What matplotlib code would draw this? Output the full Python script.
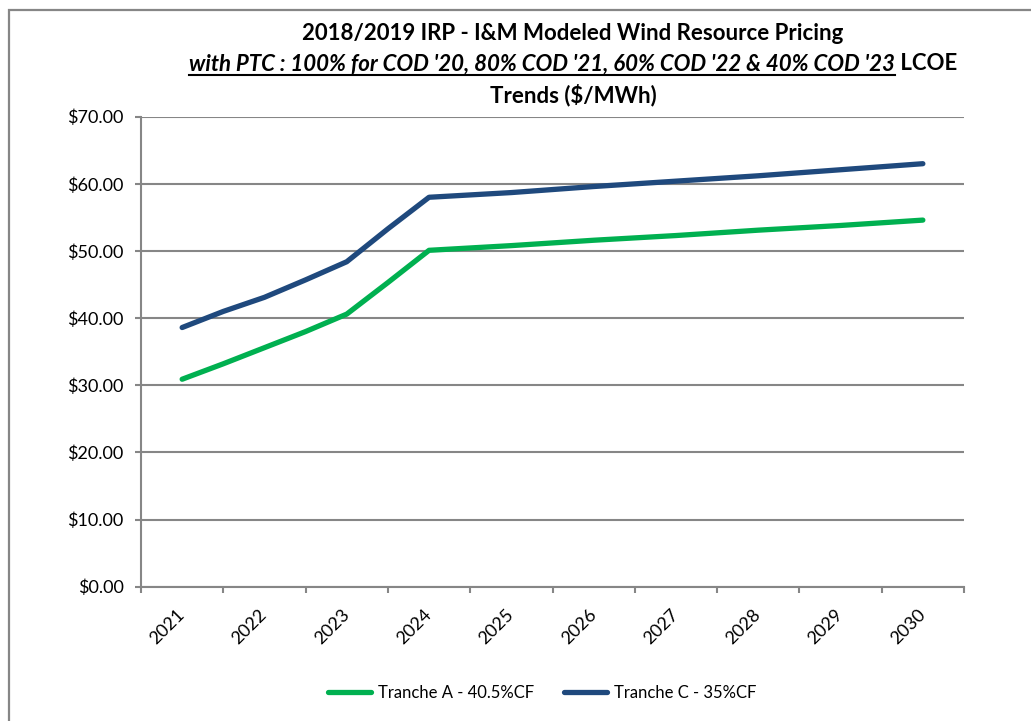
import matplotlib
matplotlib.use('Agg')
import matplotlib.pyplot as plt
from matplotlib.patches import Rectangle
from matplotlib.ticker import FuncFormatter, FixedLocator

plt.rcParams['font.family'] = ['Lato', 'DejaVu Sans']

# data ($/MWh)
x_pos = [2021, 2021.5, 2022, 2022.5, 2023, 2023.5, 2024, 2025, 2026, 2027, 2028, 2029, 2030]
tranche_a = [30.9, 33.2, 35.6, 38.0, 40.6, 45.3, 50.1, 50.8, 51.6, 52.3, 53.1, 53.8, 54.6]
tranche_c = [38.6, 41.0, 43.1, 45.7, 48.4, 53.3, 58.0, 58.7, 59.6, 60.4, 61.2, 62.1, 63.0]
year_labels = ['2021', '2022', '2023', '2024', '2025', '2026', '2027', '2028', '2029', '2030']
years = [2021, 2022, 2023, 2024, 2025, 2026, 2027, 2028, 2029, 2030]

W, H = 1031, 721
fig = plt.figure(figsize=(W / 100, H / 100), dpi=100)
ax = fig.add_axes([141 / W, 1 - 586.7 / H, (964 - 141) / W, (586.7 - 116.7) / H])

grey = '#868686'

# chart area border (cut off at right and bottom)
fig.patches.append(Rectangle((9 / W, -0.1), 1.2, 1.1 - 10 / H, transform=fig.transFigure,
                             fill=False, edgecolor=grey, lw=1.6))

l1, = ax.plot(x_pos, tranche_a, color='#00B050', lw=3.8, solid_capstyle='round',
              solid_joinstyle='round', label='Tranche A - 40.5%CF')
l2, = ax.plot(x_pos, tranche_c, color='#1F497D', lw=3.8, solid_capstyle='round',
              solid_joinstyle='round', label='Tranche C - 35%CF')

ax.set_ylim(0, 70)
ax.set_xlim(2020.5, 2030.5)
ax.set_yticks(range(0, 71, 10))
ax.yaxis.set_major_formatter(FuncFormatter(lambda v, p: '${:.2f}'.format(v)))
ax.yaxis.grid(True, color=grey, lw=1.5)
ax.set_axisbelow(True)

for s in ['top', 'right']:
    ax.spines[s].set_visible(False)
for s in ['left', 'bottom']:
    ax.spines[s].set_color(grey)
    ax.spines[s].set_linewidth(1.5)

ax.tick_params(axis='y', direction='out', length=4.6, width=1.5, color=grey,
               pad=8, labelsize=13)
ax.xaxis.set_major_locator(FixedLocator(years))
ax.set_xticklabels(year_labels, rotation=45, ha='right', va='center', rotation_mode='anchor')
ax.xaxis.set_minor_locator(FixedLocator([y - 0.5 for y in years] + [2030.5]))
ax.tick_params(axis='x', which='major', length=0, pad=18, labelsize=13)
ax.tick_params(axis='x', which='minor', direction='out', length=4.6, width=1.5, color=grey)

# title, three lines, middle one partly italic + underlined
cx = 573 / W
fs = 16
fig.text(cx, 1 - 33 / H, '2018/2019 IRP - I&M Modeled Wind Resource Pricing',
         ha='center', va='center', fontsize=fs, fontweight='bold')
fig.text(cx, 1 - 95 / H, 'Trends ($/MWh)', ha='center', va='center', fontsize=fs, fontweight='bold')

r = fig.canvas.get_renderer()
t_it = fig.text(0, 1 - 64 / H, "with PTC : 100% for COD '20, 80% COD '21, 60% COD '22 & 40% COD '23",
                ha='left', va='center', fontsize=fs, fontweight='bold', style='italic')
t_lc = fig.text(0, 1 - 64 / H, ' LCOE', ha='left', va='center', fontsize=fs, fontweight='bold')
w1 = t_it.get_window_extent(r).width
w2 = t_lc.get_window_extent(r).width
x0 = cx * W - (w1 + w2) / 2
t_it.set_x(x0 / W)
t_lc.set_x((x0 + w1) / W)
uy = 1 - 75 / H
fig.add_artist(plt.Line2D([x0 / W, (x0 + w1) / W], [uy, uy], transform=fig.transFigure,
                          color='black', lw=1.5))

fig.legend(handles=[l1, l2], loc='center', bbox_to_anchor=(542 / W, 1 - 693 / H), ncol=2,
           frameon=False, fontsize=12, handlelength=2.6, columnspacing=1.8, handletextpad=0.4)

plt.savefig('out.png', dpi=100)
